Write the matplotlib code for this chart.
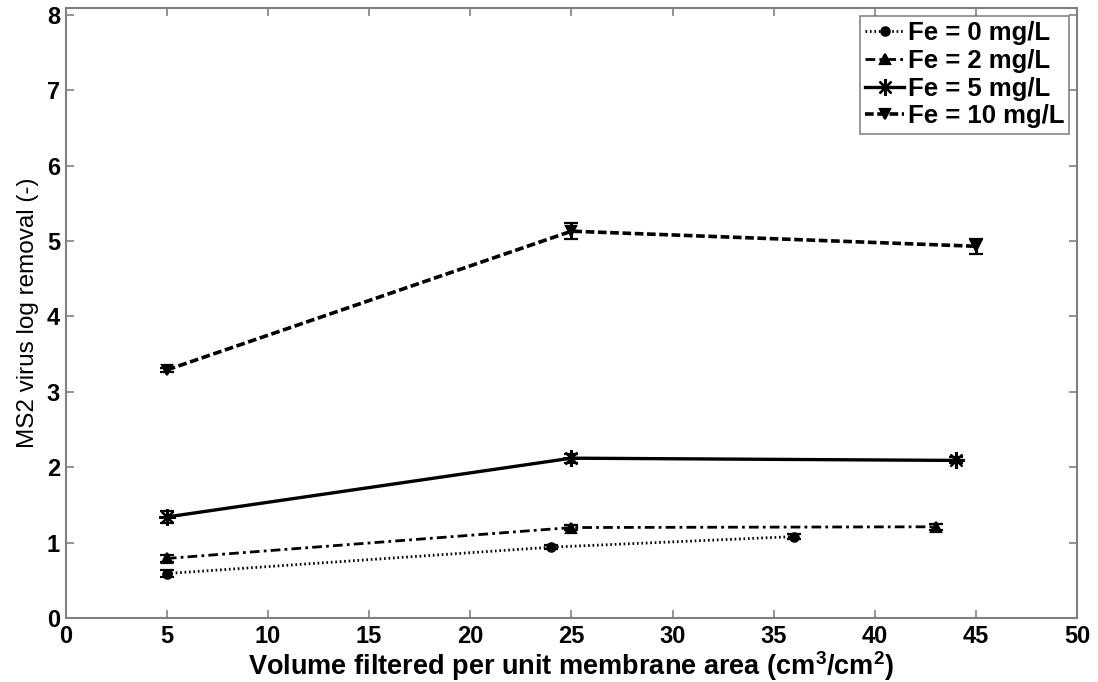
import matplotlib
matplotlib.use("Agg")
import matplotlib.pyplot as plt

plt.rcParams['font.family'] = ['Liberation Sans', 'DejaVu Sans']
plt.rcParams['mathtext.fontset'] = 'custom'
plt.rcParams['mathtext.rm'] = 'Liberation Sans:bold'
plt.rcParams['mathtext.default'] = 'rm'

# Log removal of MS2 virus vs. volume filtered, for each iron dose
x_fe0 = [5, 24, 36]
y_fe0 = [0.59, 0.94, 1.08]
e_fe0 = [0.05, 0.03, 0.03]

x_fe2 = [5, 25, 43]
y_fe2 = [0.79, 1.20, 1.21]
e_fe2 = [0.05, 0.03, 0.04]

x_fe5 = [5, 25, 44]
y_fe5 = [1.34, 2.12, 2.09]
e_fe5 = [0.08, 0.06, 0.04]

x_fe10 = [5, 25, 45]
y_fe10 = [3.29, 5.13, 4.93]
e_fe10 = [0.03, 0.11, 0.10]

labels = ['Fe = 0 mg/L', 'Fe = 2 mg/L', 'Fe = 5 mg/L', 'Fe = 10 mg/L']
x_ticks = [0, 5, 10, 15, 20, 25, 30, 35, 40, 45, 50]
y_ticks = [0, 1, 2, 3, 4, 5, 6, 7, 8]

fig = plt.figure(figsize=(10.98, 6.82), dpi=100)
ax = fig.add_axes([0.0598, 0.0938, 0.9212, 0.8945])

asterisk = (8, 2, 0)
series = [
    (x_fe0, y_fe0, e_fe0, dict(linestyle=(0, (0.6, 1.0)), linewidth=2.0), 'o', 6),
    (x_fe2, y_fe2, e_fe2, dict(linestyle=(0, (3.5, 1.5, 1.0, 1.5)), linewidth=2.0), '^', 7),
    (x_fe5, y_fe5, e_fe5, dict(linestyle='-', linewidth=2.4), asterisk, 12),
    (x_fe10, y_fe10, e_fe10, dict(linestyle=(0, (2.4, 1.0)), linewidth=2.6), 'v', 7),
]
handles = []
for (xs, ys, es, style, mk, ms), lab in zip(series, labels):
    cont = ax.errorbar(xs, ys, yerr=es, color='black', marker=mk, markersize=ms,
                       markerfacecolor='black', markeredgecolor='black',
                       markeredgewidth=1.6, elinewidth=2.2, capsize=5,
                       capthick=2.2, label=lab, **style)
    handles.append(cont[0])

ax.set_xlim(0, 50)
ax.set_ylim(0, 8.09)
ax.set_xticks(x_ticks)
ax.set_yticks(y_ticks)
ax.tick_params(direction='in', length=6, width=1.1, color='#777777',
               labelsize=17, top=True, right=True)
ax.tick_params(axis='x', pad=5)
ax.tick_params(axis='y', pad=4)
for lbl in ax.get_xticklabels() + ax.get_yticklabels():
    lbl.set_fontweight('bold')
for sp in ax.spines.values():
    sp.set_color('#808080')
    sp.set_linewidth(1.5)

ax.set_xlabel(r'Volume filtered per unit membrane area (cm$^{3}$/cm$^{2}$)',
              fontsize=19.5, fontweight='bold', labelpad=1)
ax.set_ylabel('MS2 virus log removal (-)', fontsize=17.5, labelpad=6)

leg = ax.legend(handles=handles, labels=labels, loc='upper right', fontsize=18.5,
                frameon=True, fancybox=False, edgecolor='#666666',
                handlelength=1.5, handletextpad=0.15, borderpad=0.2,
                labelspacing=0.15, borderaxespad=0.3)
leg.get_frame().set_linewidth(1.2)
for t in leg.get_texts():
    t.set_fontweight('bold')

fig.savefig('out.png', dpi=100)
